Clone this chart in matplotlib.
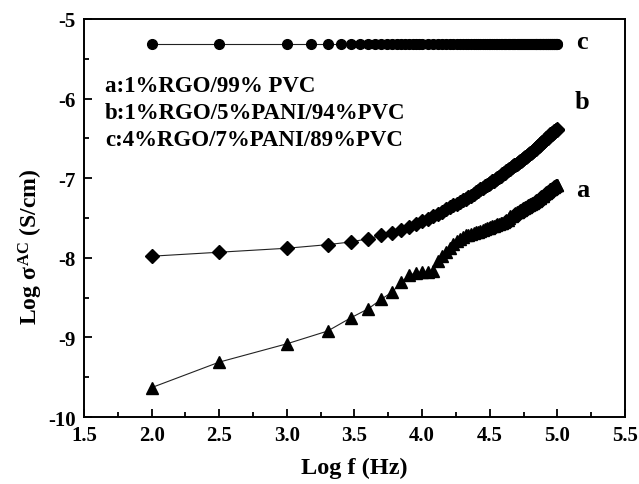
import numpy as np
import matplotlib
matplotlib.use("Agg")
import matplotlib.pyplot as plt
from matplotlib.ticker import MultipleLocator

plt.rcParams['font.family'] = ['Liberation Serif', 'DejaVu Serif']
plt.rcParams['font.weight'] = 'bold'
plt.rcParams['mathtext.fontset'] = 'custom'
plt.rcParams['mathtext.rm'] = 'Liberation Serif:bold'
plt.rcParams['mathtext.it'] = 'Liberation Serif:bold'
plt.rcParams['mathtext.bf'] = 'Liberation Serif:bold'

# measurement frequencies (Hz)
freq_ab = [100, 316, 1000] + list(range(2000, 100001, 1000))
freq_c = [100, 316] + list(range(1000, 10001, 500)) + list(range(11000, 100001, 1000))

# a: 1%RGO/99%PVC
a_vals = [-9.63, -9.31, -9.08,
          -8.92, -8.75, -8.64, -8.52, -8.43, -8.31, -8.22, -8.19, -8.18,
          -8.18, -8.16, -8.04, -7.98, -7.93, -7.88, -7.83, -7.79, -7.76, -7.74,
          -7.72, -7.71, -7.70, -7.69, -7.68, -7.67, -7.66, -7.65,
          -7.64, -7.63, -7.62, -7.61, -7.60, -7.60, -7.59, -7.58, -7.57, -7.56,
          -7.56, -7.55, -7.54, -7.53, -7.52, -7.50, -7.48, -7.47, -7.46, -7.45,
          -7.44, -7.43,
          -7.42, -7.41, -7.40, -7.40, -7.39, -7.38, -7.37, -7.36, -7.36, -7.35,
          -7.34, -7.34, -7.33, -7.32, -7.31, -7.31, -7.30, -7.29, -7.29, -7.28,
          -7.27, -7.26, -7.25, -7.25, -7.24, -7.23, -7.22, -7.22, -7.21, -7.20,
          -7.19, -7.19, -7.18, -7.17, -7.16, -7.16, -7.15, -7.14, -7.14, -7.13,
          -7.12, -7.12, -7.11, -7.11, -7.10, -7.10, -7.09, -7.09, -7.08, -7.08]

# b: 1%RGO/5%PANI/94%PVC
b_vals = [-7.98, -7.93, -7.88,
          -7.835, -7.80, -7.76, -7.72, -7.69, -7.65, -7.61, -7.58, -7.54,
          -7.51, -7.48, -7.45, -7.42, -7.39, -7.36, -7.34, -7.32, -7.30, -7.28,
          -7.26, -7.24, -7.22, -7.20, -7.18, -7.16, -7.14, -7.12, -7.10, -7.09,
          -7.07, -7.06, -7.04, -7.03, -7.01, -7.00, -6.98, -6.97, -6.95, -6.94,
          -6.93, -6.91, -6.90, -6.89, -6.88, -6.86, -6.85, -6.84, -6.83, -6.82,
          -6.81, -6.80, -6.79, -6.78, -6.77, -6.76, -6.75, -6.74, -6.73, -6.72,
          -6.71, -6.70, -6.69, -6.68, -6.67, -6.66, -6.65, -6.64, -6.63, -6.62,
          -6.61, -6.60, -6.59, -6.58, -6.57, -6.56, -6.55, -6.55, -6.54, -6.53,
          -6.52, -6.51, -6.50, -6.49, -6.49, -6.48, -6.47, -6.46, -6.45, -6.45,
          -6.44, -6.43, -6.43, -6.42, -6.41, -6.41, -6.40, -6.39, -6.39, -6.38]

# c: 4%RGO/7%PANI/89%PVC (flat)
c_vals = [-5.31, -5.31,
          -5.31, -5.31, -5.31, -5.31, -5.31, -5.31, -5.31, -5.31, -5.31, -5.31,
          -5.31, -5.31, -5.31, -5.31, -5.31, -5.31, -5.31, -5.31, -5.31,
          -5.31, -5.31, -5.31, -5.31, -5.31, -5.31, -5.31, -5.31, -5.31, -5.31,
          -5.31, -5.31, -5.31, -5.31, -5.31, -5.31, -5.31, -5.31, -5.31, -5.31,
          -5.31, -5.31, -5.31, -5.31, -5.31, -5.31, -5.31, -5.31, -5.31, -5.31,
          -5.31, -5.31, -5.31, -5.31, -5.31, -5.31, -5.31, -5.31, -5.31, -5.31,
          -5.31, -5.31, -5.31, -5.31, -5.31, -5.31, -5.31, -5.31, -5.31, -5.31,
          -5.31, -5.31, -5.31, -5.31, -5.31, -5.31, -5.31, -5.31, -5.31, -5.31,
          -5.31, -5.31, -5.31, -5.31, -5.31, -5.31, -5.31, -5.31, -5.31, -5.31,
          -5.31, -5.31, -5.31, -5.31, -5.31, -5.31, -5.31, -5.31, -5.31, -5.31,
          -5.31, -5.31, -5.31, -5.31, -5.31, -5.31, -5.31, -5.31, -5.31, -5.31]

legend_lines = ['a:1%RGO/99% PVC', 'b:1%RGO/5%PANI/94%PVC', 'c:4%RGO/7%PANI/89%PVC']
curve_tags = ['a', 'b', 'c']

x_ab = np.log10(freq_ab)
x_c = np.log10(freq_c)

fig = plt.figure(figsize=(6.39, 4.85), dpi=100)
ax = fig.add_axes([0.1315, 0.138, 0.8465, 0.821])

line_kw = dict(color='#222222', lw=0.8, mfc='black', mec='black')
ax.plot(x_c, c_vals, marker='o', ms=7, **line_kw)
ax.plot(x_ab, b_vals, marker='D', ms=7.5, **line_kw)
ax.plot(x_ab, a_vals, marker='^', ms=9, **line_kw)

ax.set_xlim(1.5, 5.5)
ax.set_ylim(-10, -5)
ax.xaxis.set_major_locator(MultipleLocator(0.5))
ax.xaxis.set_minor_locator(MultipleLocator(0.25))
ax.yaxis.set_major_locator(MultipleLocator(1))
ax.yaxis.set_minor_locator(MultipleLocator(0.5))
ax.xaxis.set_major_formatter(matplotlib.ticker.FormatStrFormatter('%.1f'))
ax.yaxis.set_major_formatter(matplotlib.ticker.FormatStrFormatter('%d'))
ax.tick_params(which='both', direction='in', top=False, right=False,
               labelsize=15, width=1.3)
ax.tick_params(which='major', length=6, pad=6)
ax.tick_params(which='minor', length=3.5)
for sp in ax.spines.values():
    sp.set_linewidth(1.4)
for lab in ax.get_xticklabels() + ax.get_yticklabels():
    lab.set_fontweight('bold')

ax.set_xlabel('Log f (Hz)', fontsize=17.5, fontweight='bold')
ax.xaxis.set_label_coords(0.5, -0.1)
ax.set_ylabel(r'Log $\sigma^{AC}$ (S/cm)', fontsize=17, fontweight='bold')
ax.yaxis.set_label_coords(-0.072, 0.43)

for i, t in enumerate(legend_lines):
    ax.text(1.655, -5.84 - i * 0.335, t, fontsize=16.5, fontweight='bold', va='center')

ax.text(5.18, -5.28, curve_tags[2], fontsize=19, fontweight='bold', va='center', ha='center')
ax.text(5.18, -6.04, curve_tags[1], fontsize=19, fontweight='bold', va='center', ha='center')
ax.text(5.19, -7.14, curve_tags[0], fontsize=19, fontweight='bold', va='center', ha='center')

fig.savefig('out.png', dpi=100)
